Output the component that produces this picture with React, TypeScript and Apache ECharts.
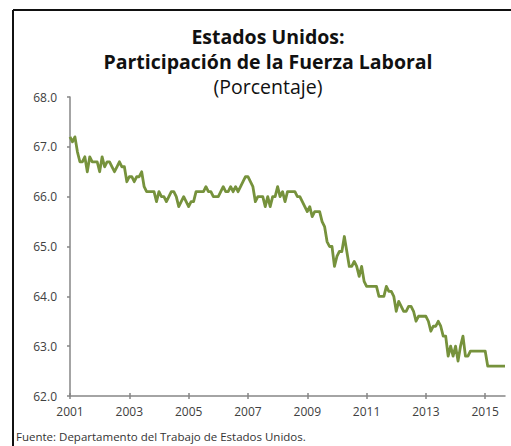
import React, { useEffect, useRef } from "react";
import * as echarts from "echarts";

// Monthly labour-force participation rate (%), Jan 2001 – Sep 2015
const values2001 = [67.2, 67.1, 67.2, 66.9, 66.7, 66.7, 66.8, 66.5, 66.8, 66.7, 66.7, 66.7];
const values2002 = [66.5, 66.8, 66.6, 66.7, 66.7, 66.6, 66.5, 66.6, 66.7, 66.6, 66.6, 66.3];
const values2003 = [66.4, 66.4, 66.3, 66.4, 66.4, 66.5, 66.2, 66.1, 66.1, 66.1, 66.1, 65.9];
const values2004 = [66.1, 66.0, 66.0, 65.9, 66.0, 66.1, 66.1, 66.0, 65.8, 65.9, 66.0, 65.9];
const values2005 = [65.8, 65.9, 65.9, 66.1, 66.1, 66.1, 66.1, 66.2, 66.1, 66.1, 66.0, 66.0];
const values2006 = [66.0, 66.1, 66.2, 66.1, 66.1, 66.2, 66.1, 66.2, 66.1, 66.2, 66.3, 66.4];
const values2007 = [66.4, 66.3, 66.2, 65.9, 66.0, 66.0, 66.0, 65.8, 66.0, 65.8, 66.0, 66.0];
const values2008 = [66.2, 66.0, 66.1, 65.9, 66.1, 66.1, 66.1, 66.1, 66.0, 66.0, 65.9, 65.8];
const values2009 = [65.7, 65.8, 65.6, 65.7, 65.7, 65.7, 65.5, 65.4, 65.1, 65.0, 65.0, 64.6];
const values2010 = [64.8, 64.9, 64.9, 65.2, 64.9, 64.6, 64.6, 64.7, 64.6, 64.4, 64.6, 64.3];
const values2011 = [64.2, 64.2, 64.2, 64.2, 64.2, 64.0, 64.0, 64.0, 64.2, 64.1, 64.1, 64.0];
const values2012 = [63.7, 63.9, 63.8, 63.7, 63.7, 63.8, 63.8, 63.7, 63.5, 63.6, 63.6, 63.6];
const values2013 = [63.6, 63.5, 63.3, 63.4, 63.4, 63.5, 63.4, 63.2, 63.2, 62.8, 63.0, 62.8];
const values2014 = [63.0, 62.7, 63.0, 63.2, 62.8, 62.8, 62.9, 62.9, 62.9, 62.9, 62.9, 62.9];
const values2015 = [62.9, 62.6, 62.6, 62.6, 62.6, 62.6, 62.6, 62.6, 62.6];

const startYear = 2001;
const yearTicks = [2001, 2003, 2005, 2007, 2009, 2011, 2013, 2015];
const yMin = 62;
const yMax = 68;

const titleLine1 = "Estados Unidos:";
const titleLine2 = "Participación de la Fuerza Laboral";
const subtitle = "(Porcentaje)";
const source = "Fuente: Departamento del Trabajo de Estados Unidos.";

const allValues = [
  ...values2001, ...values2002, ...values2003, ...values2004, ...values2005,
  ...values2006, ...values2007, ...values2008, ...values2009, ...values2010,
  ...values2011, ...values2012, ...values2013, ...values2014, ...values2015,
];

export default function App() {
  const ref = useRef<HTMLDivElement>(null);
  useEffect(() => {
    if (!ref.current) return;
    const chart = echarts.init(ref.current, undefined, { renderer: "svg" });
    const data = allValues.map((v, i) => [startYear + i / 12, v]);
    const xMax = startYear + (allValues.length - 1) / 12;
    const font = "'Open Sans', 'Noto Sans', sans-serif";
    const axisGray = "#868686";
    chart.setOption({
      animation: false,
      backgroundColor: "#ffffff",
      textStyle: { fontFamily: font },
      grid: { left: 70, right: 6, top: 97, bottom: 50, containLabel: false },
      xAxis: [
        {
          type: "value",
          position: "bottom",
          min: startYear,
          max: xMax,
          axisLine: { show: true, lineStyle: { color: axisGray, width: 1.5 } },
          axisTick: { show: true, length: 3, inside: false, customValues: yearTicks, lineStyle: { color: axisGray, width: 1.5 } },
          axisLabel: {
            show: true,
            customValues: yearTicks,
            margin: 9,
            color: "#404040",
            fontSize: 12,
            fontFamily: font,
            formatter: (v: number) => String(Math.round(v)),
          },
          splitLine: { show: false },
        },
        {
          type: "value",
          position: "bottom",
          min: startYear,
          max: xMax,
          axisLine: { show: false },
          axisTick: { show: true, length: 3, inside: true, customValues: yearTicks, lineStyle: { color: axisGray, width: 1.5 } },
          axisLabel: { show: false },
          splitLine: { show: false },
        },
      ],
      yAxis: {
        type: "value",
        min: yMin,
        max: yMax,
        interval: 1,
        axisLine: { show: true, lineStyle: { color: axisGray, width: 1.5 } },
        axisTick: { show: true, length: 3, lineStyle: { color: axisGray, width: 1.5 } },
        axisLabel: {
          color: "#404040",
          fontSize: 12,
          fontFamily: font,
          margin: 13,
          formatter: (v: number) => v.toFixed(1),
        },
        splitLine: { show: false },
      },
      series: [
        {
          type: "line",
          xAxisIndex: 0,
          data,
          showSymbol: false,
          symbol: "none",
          lineStyle: { color: "#76923C", width: 2.8, join: "round" },
        },
      ],
      graphic: [
        { type: "line", shape: { x1: 13, y1: 10, x2: 511, y2: 10 }, style: { stroke: "#111", lineWidth: 2 } },
        { type: "line", shape: { x1: 13, y1: 10, x2: 13, y2: 446 }, style: { stroke: "#111", lineWidth: 2 } },
        {
          type: "text", x: 268, y: 36,
          style: { text: titleLine1, fill: "#111", font: `bold 19.5px ${font}`, textAlign: "center", textVerticalAlign: "middle" },
        },
        {
          type: "text", x: 268, y: 61,
          style: { text: titleLine2, fill: "#111", font: `bold 19.5px ${font}`, textAlign: "center", textVerticalAlign: "middle" },
        },
        {
          type: "text", x: 268, y: 86,
          style: { text: subtitle, fill: "#111", font: `19.5px ${font}`, textAlign: "center", textVerticalAlign: "middle" },
        },
        {
          type: "text", x: 16, y: 436,
          style: { text: source, fill: "#333", font: `11.5px ${font}`, textAlign: "left", textVerticalAlign: "middle" },
        },
      ],
    });
    return () => chart.dispose();
  }, []);
  return (
    <div
      ref={ref}
      style={{ position: "fixed", left: 0, top: 0, width: 511, height: 446 }}
    />
  );
}
